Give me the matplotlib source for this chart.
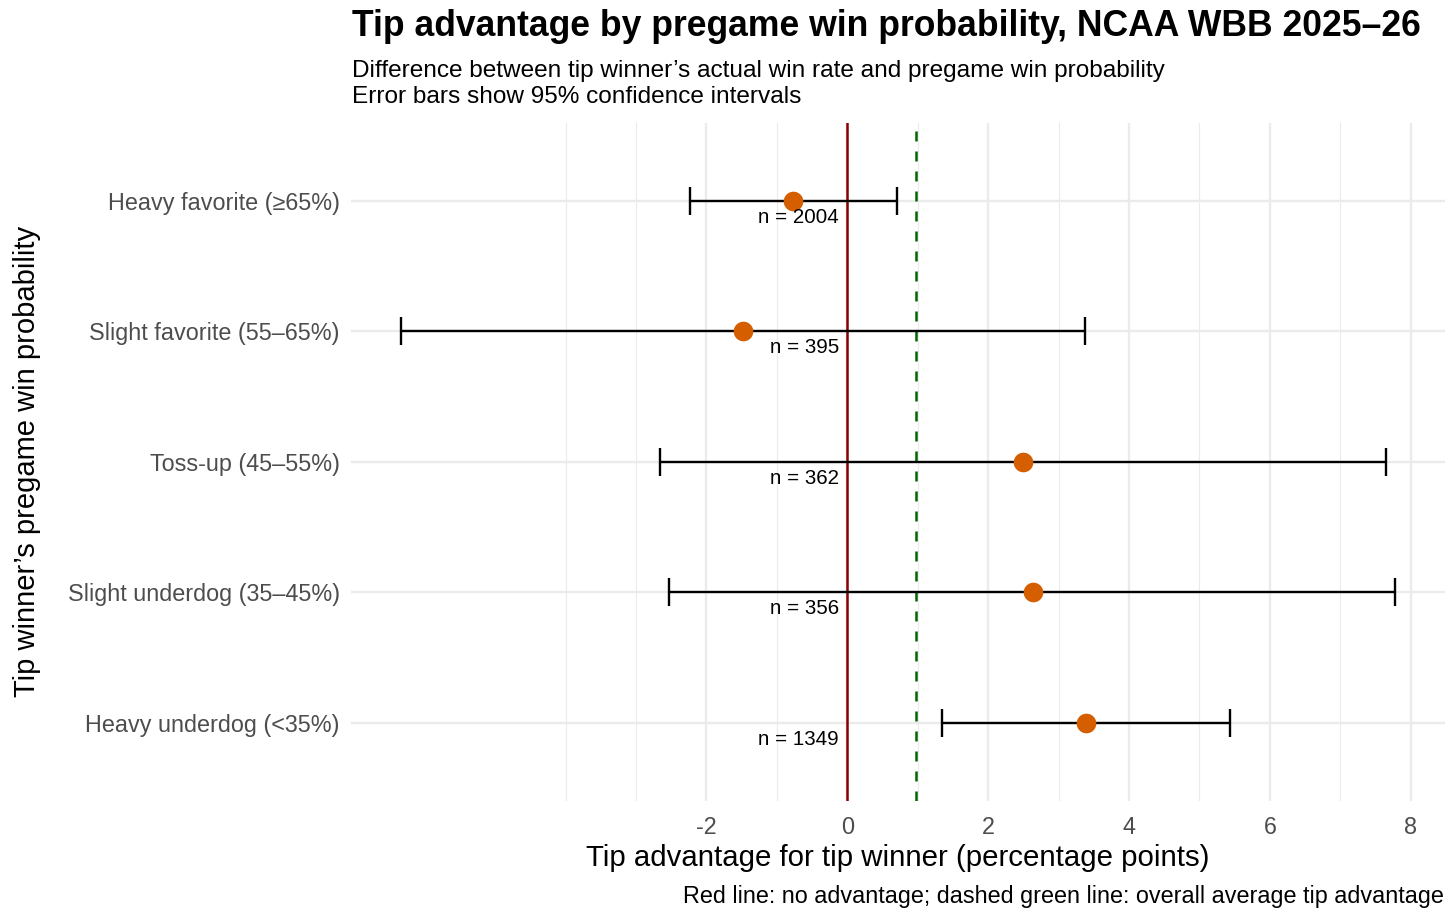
import matplotlib
matplotlib.use("Agg")
import matplotlib.pyplot as plt
import numpy as np

plt.rcParams['font.family'] = ['Liberation Sans', 'DejaVu Sans']

# data (percentage points)
groups = ["Heavy favorite (≥65%)", "Slight favorite (55–65%)", "Toss-up (45–55%)",
          "Slight underdog (35–45%)", "Heavy underdog (<35%)"]
advantage = [-0.77, -1.48, 2.49, 2.63, 3.39]
ci_low = [-2.23, -6.34, -2.66, -2.53, 1.35]
ci_high = [0.71, 3.38, 7.65, 7.78, 5.44]
n_games = [2004, 395, 362, 356, 1349]
overall_avg = 0.97

ypos = np.arange(len(groups))[::-1] + 1  # top row = 5

fig = plt.figure(figsize=(14.56, 9.18), dpi=100)
ax = fig.add_axes([351 / 1456, 1 - 801 / 918, (1445 - 351) / 1456, (801 - 122.7) / 918])

lo, hi = min(ci_low), max(ci_high)
pad = (hi - lo) * 0.05
ax.set_xlim(lo - pad, hi + pad)
ax.set_ylim(0.4, 5.6)

# grid like theme_minimal
for v in [-4, -3, -1, 1, 3, 5, 7]:
    ax.axvline(v, color='#EBEBEB', lw=0.8, zorder=0)
for v in [-2, 0, 2, 4, 6, 8]:
    ax.axvline(v, color='#EBEBEB', lw=1.7, zorder=0)
for y in ypos:
    ax.axhline(y, color='#EBEBEB', lw=1.7, zorder=0)

ax.axvline(0, color='#8B0000', lw=1.8, zorder=1)
ax.axvline(overall_avg, color='#006400', lw=1.8, ls=(0, (4, 4)), zorder=1)

ax.errorbar(advantage, ypos,
            xerr=[np.array(advantage) - np.array(ci_low), np.array(ci_high) - np.array(advantage)],
            fmt='none', ecolor='black', elinewidth=1.7, capsize=10, capthick=1.7, zorder=2)
ax.scatter(advantage, ypos, s=200, color='#D55E00', zorder=3, linewidths=0)

for y, n in zip(ypos, n_games):
    ax.annotate(f"n = {n}", (0, y), xytext=(-6, -5), textcoords='offset points',
                ha='right', va='top', fontsize=14.8, color='black')

ax.set_xticks([-2, 0, 2, 4, 6, 8])
ax.set_xticklabels(["-2", "0", "2", "4", "6", "8"])
ax.set_yticks(ypos)
ax.set_yticklabels(groups)
ax.tick_params(axis='both', length=0, labelsize=16.8, labelcolor='#4D4D4D')
ax.tick_params(axis='x', pad=10.5)
ax.tick_params(axis='y', pad=8)
for s in ax.spines.values():
    s.set_visible(False)

ax.set_xlabel("Tip advantage for tip winner (percentage points)", fontsize=21.2)
ax.xaxis.set_label_coords(0.5, -(858 - 801) / (801 - 122.7))
ax.xaxis.label.set_va('center')
ax.set_ylabel("Tip winner’s pregame win probability", fontsize=21)
ax.yaxis.set_label_coords((27 - 351) / (1445 - 351), 0.5)
ax.yaxis.label.set_va('center')

fig.text(352 / 1456, 1 - 26 / 918, "Tip advantage by pregame win probability, NCAA WBB 2025–26",
         fontsize=25.6, fontweight='bold', ha='left', va='center')
fig.text(352 / 1456, 1 - 71 / 918, "Difference between tip winner’s actual win rate and pregame win probability",
         fontsize=17.6, ha='left', va='center')
fig.text(352 / 1456, 1 - 97 / 918, "Error bars show 95% confidence intervals",
         fontsize=17.6, ha='left', va='center')
fig.text(1444 / 1456, 1 - 896 / 918, "Red line: no advantage; dashed green line: overall average tip advantage",
         fontsize=16.8, ha='right', va='center')

fig.savefig("out.png", dpi=100)
